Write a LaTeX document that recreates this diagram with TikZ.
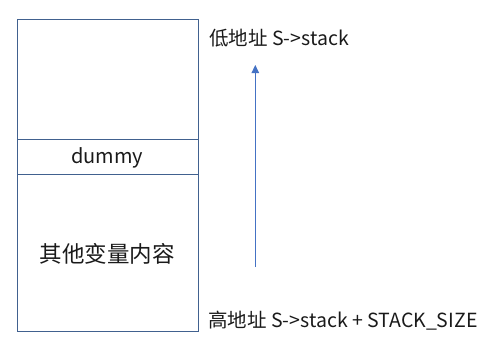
\documentclass[tikz,border=0pt]{standalone}
\usepackage{fontspec}
\setmainfont{Noto Sans CJK SC}
\usetikzlibrary{arrows.meta}
\definecolor{boxline}{HTML}{41618F}
\definecolor{arrowblue}{HTML}{4472C4}
\definecolor{txt}{HTML}{1A1A1A}
\begin{document}
\begin{tikzpicture}[x=1pt,y=-1pt,
  cell/.style={draw=boxline,line width=1pt,inner sep=0pt,minimum width=181.8pt,text=txt},
  lbl/.style={anchor=west,inner sep=0pt,text=txt,font=\fontsize{19.5pt}{22pt}\selectfont},
  upflow/.style={draw=arrowblue,line width=1pt,-{Triangle[length=8pt,width=7.5pt]}}]
\useasboundingbox (0,0) rectangle (495,349);
\node[cell,minimum height=120pt,anchor=north west] (top) at (16.5,19.3) {};
\node[cell,minimum height=34.7pt,anchor=north west] (dummy) at (16.5,139.3) {};
\node[text=txt,font=\fontsize{20pt}{22pt}\selectfont,inner sep=0pt] (dummylbl) at (107.2,158) {dummy};
\node[cell,minimum height=157.3pt,anchor=north west] (rest) at (16.5,174) {};
\node[text=txt,font=\fontsize{22.5pt}{25pt}\selectfont,inner sep=0pt] (restlbl) at (107.2,253.5) {其他变量内容};
\node[lbl] (low) at (209,38.5) {低地址 S->stack};
\node[lbl] (high) at (208,320.5) {高地址 S->stack + STACK\_SIZE};
\coordinate (abot) at (255.3,267);
\coordinate (atop) at (255.3,65);
\draw[upflow] (abot) -- (atop);
\end{tikzpicture}
\end{document}
